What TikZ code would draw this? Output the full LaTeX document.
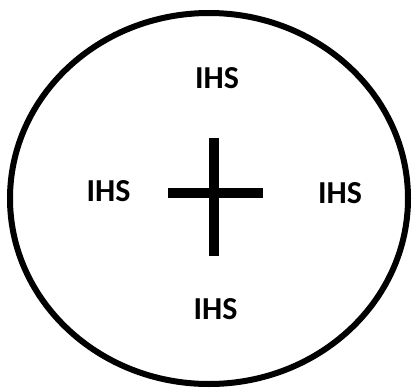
\documentclass[tikz,border=0pt]{standalone}
\usepackage{fontspec}
\setmainfont{Carlito}
\usetikzlibrary{calc}
\tikzset{
  rim/.style={draw=black, line width=6pt},
  bar/.style={draw=black, line width=10pt},
  mono/.style={font=\fontsize{32}{32}\selectfont\bfseries, text=black, inner sep=0pt, anchor=center},
}
\begin{document}
\begin{tikzpicture}[x=1pt, y=-1pt]
\useasboundingbox (0,0) rectangle (412,388);

% Outer ring
\coordinate (centre) at (209,198.5);
\draw[rim] (centre) ellipse [x radius=199, y radius=185.5];

% Cross
\coordinate (ctop) at (214,138);
\coordinate (cbot) at (214,256);
\coordinate (cleft) at (168,193.3);
\coordinate (cright) at (263,193.3);
\draw[bar] (ctop) -- (cbot);
\draw[bar] (cleft) -- (cright);

% Monograms
\node[mono] (north) at (217,78) {IHS};
\node[mono] (west) at (108.5,191) {IHS};
\node[mono] (east) at (340,193.5) {IHS};
\node[mono] (south) at (215.5,309) {IHS};

\end{tikzpicture}
\end{document}
